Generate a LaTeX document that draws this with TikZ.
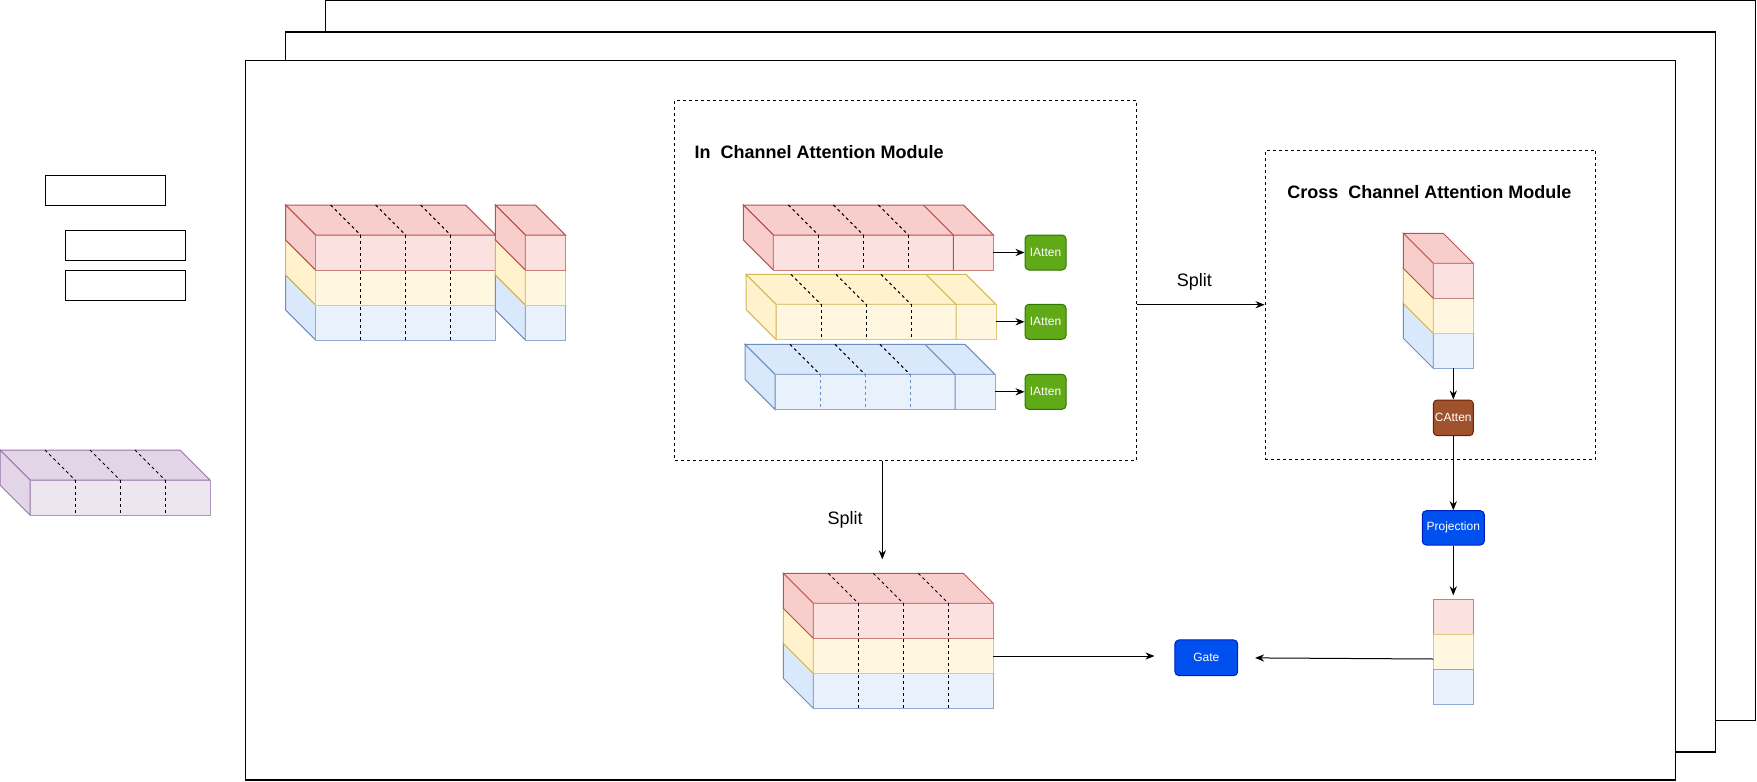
\documentclass[tikz,border=0pt]{standalone}
\usepackage{fontspec}
\setmainfont{Liberation Sans}
\usetikzlibrary{arrows.meta}

\definecolor{redfill}{HTML}{F8CECC}
\definecolor{redline}{HTML}{B85450}
\definecolor{yelfill}{HTML}{FFF2CC}
\definecolor{yelline}{HTML}{D6B656}
\definecolor{bluefill}{HTML}{DAE8FC}
\definecolor{blueline}{HTML}{6C8EBF}
\definecolor{purfill}{HTML}{E1D5E7}
\definecolor{purline}{HTML}{9673A6}
\definecolor{greenfill}{HTML}{60A917}
\definecolor{greenline}{HTML}{2D7600}
\definecolor{brownfill}{HTML}{A0522D}
\definecolor{brownline}{HTML}{6D1F00}
\definecolor{gatefill}{HTML}{0050EF}
\definecolor{gateline}{HTML}{001DBC}

\tikzset{
  sheet/.style={draw=black,line width=0.6pt,fill=white},
  emptybox/.style={draw=black,line width=0.6pt},
  modbox/.style={draw=black,line width=0.5pt,dash pattern=on 1.5pt off 1.5pt},
  cutline/.style={black,line width=0.5pt,dash pattern=on 1.5pt off 1.5pt},
  opbox/.style={rounded corners=2pt,text=white,line width=0.5pt,inner sep=0pt,font=\fontsize{6}{7}\selectfont},
  arr/.style={line width=0.5pt,-{Stealth[length=4.5pt,width=3.6pt]}},
  title/.style={font=\bfseries\fontsize{9}{11}\selectfont},
  lbl/.style={font=\fontsize{9}{11}\selectfont}
}

% one band of a block: front-left x, front-top y, width, fill, stroke
\newcommand{\chslab}[5]{%
  \filldraw[draw=#5,fill=#4,line width=0.5pt] (#1,#2) -- ++(-30,-30) -- ++(#3,0) -- ++(30,30) -- cycle;
  \filldraw[draw=#5,fill=#4,line width=0.5pt] (#1,#2) -- ++(-30,-30) -- ++(0,35) -- ++(30,30) -- cycle;
  \filldraw[draw=#5!75!white,fill=#4!60!white,line width=0.5pt] (#1,#2) rectangle ++(#3,35);
}
% dashed cuts: front-left x, top y, bands, extra style of front part
\newcommand{\chcuts}[4]{%
  \foreach \k in {1,2,3} {
    \draw[cutline] (#1+45*\k-30,#2-30) -- (#1+45*\k,#2);
    \draw[cutline,#4] (#1+45*\k,#2) -- (#1+45*\k,#2+35*#3);
  }
}

\begin{document}
\begin{tikzpicture}[x=0.5pt,y=-0.5pt]
\useasboundingbox (0,0) rectangle (1757,782);

% stacked sheets
\draw[sheet] (325.7,0.6) rectangle (1755.3,720.3);
\draw[sheet] (285.3,32) rectangle (1715.7,752);
\draw[sheet] (245.7,60.3) rectangle (1675.3,780);

% left margin
\draw[emptybox] (45.3,175.3) rectangle (165.7,205.3);
\draw[emptybox] (65.3,230.3) rectangle (185.7,260.3);
\draw[emptybox] (65.3,270.3) rectangle (185.7,300.3);
\chslab{30}{480}{180}{purfill}{purline}
\chcuts{30}{480}{1}{}

% input block
\chslab{315.7}{305}{180}{bluefill}{blueline}
\chslab{315.7}{270}{180}{yelfill}{yelline}
\chslab{315.7}{235}{180}{redfill}{redline}
\chcuts{315.7}{235}{3}{}
\chslab{525.3}{305}{40}{bluefill}{blueline}
\chslab{525.3}{270}{40}{yelfill}{yelline}
\chslab{525.3}{235}{40}{redfill}{redline}

% in channel attention module
\node[modbox,minimum width=230.75pt,minimum height=180pt] (inmod) at (905.25,280) {};
\node[title] (intitle) at (819,151.7) {In~~Channel Attention Module};

\chslab{773.3}{235}{220}{redfill}{redline}
\chcuts{773.3}{235}{1}{}
\draw[redline,line width=0.5pt] (923.3,205) -- (953.3,235) -- (953.3,270);
\chslab{776}{304.3}{220}{yelfill}{yelline}
\chcuts{776}{304.3}{1}{}
\draw[yelline,line width=0.5pt] (926,274.3) -- (956,304.3) -- (956,339.3);
\chslab{775}{374.3}{220}{bluefill}{blueline}
\chcuts{775}{374.3}{1}{draw=blueline}
\draw[blueline,line width=0.5pt] (925,344.3) -- (955,374.3) -- (955,409.3);

\coordinate (barr) at (993.3,252.5);
\coordinate (bary) at (996,321.8);
\coordinate (barb) at (995,391.8);
\node[opbox,fill=greenfill,draw=greenline,minimum width=20.5pt,minimum height=17.5pt] (attr) at (1045.5,252.5) {IAtten};
\node[opbox,fill=greenfill,draw=greenline,minimum width=20.5pt,minimum height=17.5pt] (atty) at (1045.5,321.8) {IAtten};
\node[opbox,fill=greenfill,draw=greenline,minimum width=20.5pt,minimum height=17.5pt] (attb) at (1045.5,391.8) {IAtten};

% cross channel attention module
\node[modbox,minimum width=165.25pt,minimum height=154.75pt] (crossmod) at (1430.25,304.75) {};
\node[title] (crosstitle) at (1429.3,191.7) {Cross~~Channel Attention Module};
\chslab{1433.3}{333.3}{40}{bluefill}{blueline}
\chslab{1433.3}{298.3}{40}{yelfill}{yelline}
\chslab{1433.3}{263.3}{40}{redfill}{redline}
\coordinate (crossbot) at (1453.3,368.3);
\node[opbox,fill=brownfill,draw=brownline,minimum width=20pt,minimum height=17.85pt] (catten) at (1453.3,417.85) {CAtten};
\node[opbox,fill=gatefill,draw=gateline,minimum width=31pt,minimum height=17.15pt] (proj) at (1453.3,527.85) {Projection};

% projected vector
\filldraw[draw=redline!75!white,fill=redfill!60!white,line width=0.5pt] (1433.3,599.3) rectangle (1473.3,634.3);
\filldraw[draw=yelline!75!white,fill=yelfill!60!white,line width=0.5pt] (1433.3,634.3) rectangle (1473.3,669.3);
\filldraw[draw=blueline!75!white,fill=bluefill!60!white,line width=0.5pt] (1433.3,669.3) rectangle (1473.3,704.3);
\coordinate (flattop) at (1453.3,599.3);
\coordinate (flaty) at (1433.3,659);

% output block
\chslab{813.3}{673.3}{180}{bluefill}{blueline}
\chslab{813.3}{638.3}{180}{yelfill}{yelline}
\chslab{813.3}{603.3}{180}{redfill}{redline}
\chcuts{813.3}{603.3}{3}{}
\coordinate (boty) at (993.3,656);
\coordinate (botsplit) at (882.3,559.3);
\node[opbox,fill=gatefill,draw=gateline,minimum width=31.35pt,minimum height=17.85pt] (gate) at (1206.3,657.8) {Gate};

\node[lbl] (splitdown) at (845,520) {Split};
\node[lbl] (splitright) at (1194.3,281.7) {Split};

% connectors
\draw[arr] (barr) -- (attr);
\draw[arr] (bary) -- (atty);
\draw[arr] (barb) -- (attb);
\draw[arr] (inmod.east |- crossmod.west) -- (crossmod.west);
\draw[arr] (inmod.south -| botsplit) -- (botsplit);
\draw[arr] (crossbot) -- (catten);
\draw[arr] (catten) -- (proj);
\draw[arr,shorten >=2pt] (proj) -- (flattop);
\draw[arr,shorten >=10pt] (boty) -- (boty -| gate.west);
\draw[arr,shorten >=8.5pt] (flaty) -- (gate.east);
\end{tikzpicture}
\end{document}
